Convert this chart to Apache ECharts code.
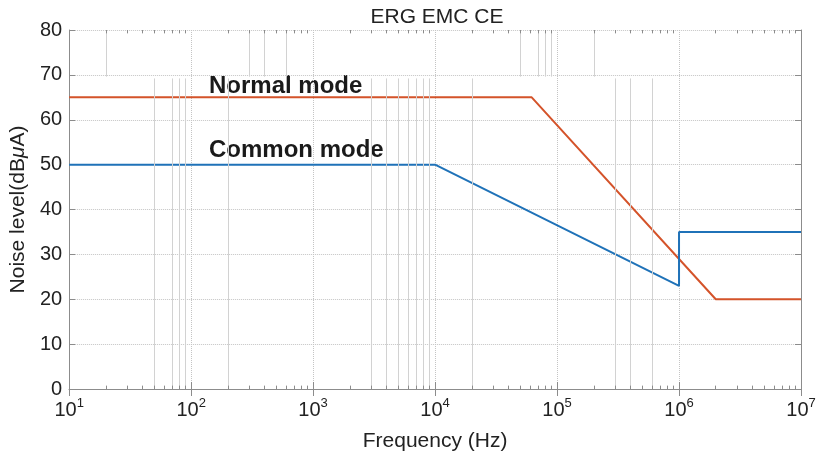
<!DOCTYPE html>
<html>
<head>
<meta charset="utf-8">
<script src="https://cdn.jsdelivr.net/npm/echarts@6/dist/echarts.min.js"></script>
<style>
  html, body { margin: 0; padding: 0; background: #fff; }
</style>
</head>
<body>
<!-- chart container, same size as the window -->
<div id="emcChart" style="width: 820px; height: 457px"></div>
<script>
// limit lines (frequency in Hz, level in dBuA)
const normalFreq = [10, 62000, 2000000, 10000000]
const normalLevel = [65, 65, 20, 20]
const commonFreq = [10, 10000, 1000000, 1000000, 10000000]
const commonLevel = [50, 50, 23, 35, 35]

// faint vertical lines seen in the original figure
const upperGhostFreq = [20, 300, 400, 600, 50000, 70000, 80000, 90000, 200000]
const lowerGhostFreq = [50, 70, 80, 90, 200, 3000, 4000, 5000, 6000, 7000, 8000, 9000, 20000, 300000, 400000, 600000]

// minor ticks 2..9 in every decade
const minorTickFreq = []
for (let d = 1; d < 7; d++) {
  for (let m = 2; m <= 9; m++) minorTickFreq.push(m * Math.pow(10, d))
}

const yTicks = [0, 10, 20, 30, 40, 50, 60, 70, 80]

const chart = echarts.init(document.getElementById('emcChart'), null, { renderer: 'canvas' })

const axisGray = '#8c8c8c'
const gridGray = '#c4c4c4'
const textColor = '#222'
const fontFamily = 'Liberation Sans, Arial, sans-serif'

// vertical line segments for the odd partial grid
const ghostLines = []
upperGhostFreq.forEach(f => ghostLines.push([{ coord: [f, 80] }, { coord: [f, 69.6] }]))
lowerGhostFreq.forEach(f => ghostLines.push([{ coord: [f, 69.2] }, { coord: [f, 0] }]))

// minor tick marks on bottom and top edges
const tickLines = []
minorTickFreq.forEach(f => {
  tickLines.push([{ coord: [f, 0] }, { coord: [f, 0.75] }])
  tickLines.push([{ coord: [f, 80] }, { coord: [f, 79.25] }])
})

const supLabel = v => {
  const e = Math.round(Math.log10(v))
  return '{b|10}{s|' + e + '}'
}

const option = {
  animation: false,
  title: {
    text: 'ERG EMC CE',
    left: 432,
    textAlign: 'center',
    top: 2,
    textStyle: { fontFamily, fontSize: 21, fontWeight: 'normal', color: textColor }
  },
  grid: { left: 64, right: 19, top: 30, bottom: 65, containLabel: false },
  xAxis: [
    {
      type: 'log',
      logBase: 10,
      min: 10,
      max: 10000000,
      name: 'Frequency (Hz)',
      nameLocation: 'middle',
      nameGap: 42,
      nameTextStyle: { fontFamily, fontSize: 21, color: textColor },
      axisLine: { lineStyle: { color: axisGray, width: 1 } },
      axisTick: { inside: true, length: 7, lineStyle: { color: axisGray } },
      minorTick: { show: false },
      splitLine: { show: true, lineStyle: { color: gridGray, type: 'dotted', width: 1 } },
      axisLabel: {
        margin: 8,
        formatter: supLabel,
        rich: {
          b: { fontFamily, fontSize: 20, color: textColor },
          s: { fontFamily, fontSize: 13, color: textColor, padding: [0, 0, 13, 0] }
        }
      }
    },
    {
      type: 'log',
      logBase: 10,
      min: 10,
      max: 10000000,
      position: 'top',
      axisLine: { lineStyle: { color: axisGray, width: 1 } },
      axisTick: { inside: true, length: 7, lineStyle: { color: axisGray } },
      axisLabel: { show: false },
      splitLine: { show: false }
    }
  ],
  yAxis: [
    {
      type: 'value',
      min: 0,
      max: 80,
      interval: 10,
      name: 'Noise level(dB{i|μ}A)',
      nameLocation: 'middle',
      nameGap: 36,
      nameRotate: 90,
      nameTextStyle: {
        fontFamily, fontSize: 21, color: textColor,
        rich: { i: { fontFamily, fontSize: 21, fontStyle: 'italic', color: textColor } }
      },
      axisLine: { show: true, lineStyle: { color: axisGray, width: 1 } },
      axisTick: { show: true, inside: true, length: 6, lineStyle: { color: axisGray } },
      splitLine: { show: true, lineStyle: { color: gridGray, type: 'dotted', width: 1 } },
      axisLabel: {
        margin: 7,
        fontFamily, fontSize: 20, color: textColor,
        formatter: v => (yTicks.indexOf(v) >= 0 ? String(v) : '')
      }
    },
    {
      type: 'value',
      min: 0,
      max: 80,
      interval: 10,
      position: 'right',
      axisLine: { show: true, lineStyle: { color: axisGray, width: 1 } },
      axisTick: { show: true, inside: true, length: 6, lineStyle: { color: axisGray } },
      axisLabel: { show: false },
      splitLine: { show: false }
    }
  ],
  graphic: [
    {
      type: 'text',
      left: 209,
      top: 74,
      style: { text: 'Normal mode', fontFamily, fontSize: 24, fontWeight: 'bold', fill: '#1a1a1a' }
    },
    {
      type: 'text',
      left: 209,
      top: 138,
      style: { text: 'Common mode', fontFamily, fontSize: 24, fontWeight: 'bold', fill: '#1a1a1a' }
    }
  ],
  series: [
    {
      // helper series: partial grid lines
      type: 'line',
      data: [],
      silent: true,
      z: 1,
      markLine: {
        silent: true,
        symbol: 'none',
        label: { show: false },
        lineStyle: { color: '#d2d2d2', width: 1, type: 'solid' },
        data: ghostLines
      }
    },
    {
      // helper series: minor ticks
      type: 'line',
      data: [],
      silent: true,
      z: 1,
      markLine: {
        silent: true,
        symbol: 'none',
        label: { show: false },
        lineStyle: { color: axisGray, width: 1, type: 'solid' },
        data: tickLines
      }
    },
    {
      name: 'Normal mode',
      type: 'line',
      z: 3,
      showSymbol: false,
      data: normalFreq.map((f, i) => [f, normalLevel[i]]),
      lineStyle: { color: '#D4532A', width: 2 },
      itemStyle: { color: '#D4532A' }
    },
    {
      name: 'Common mode',
      type: 'line',
      z: 3,
      showSymbol: false,
      data: commonFreq.map((f, i) => [f, commonLevel[i]]),
      lineStyle: { color: '#1F72B8', width: 2 },
      itemStyle: { color: '#1F72B8' }
    }
  ]
}

chart.setOption(option)
</script>
</body>
</html>
